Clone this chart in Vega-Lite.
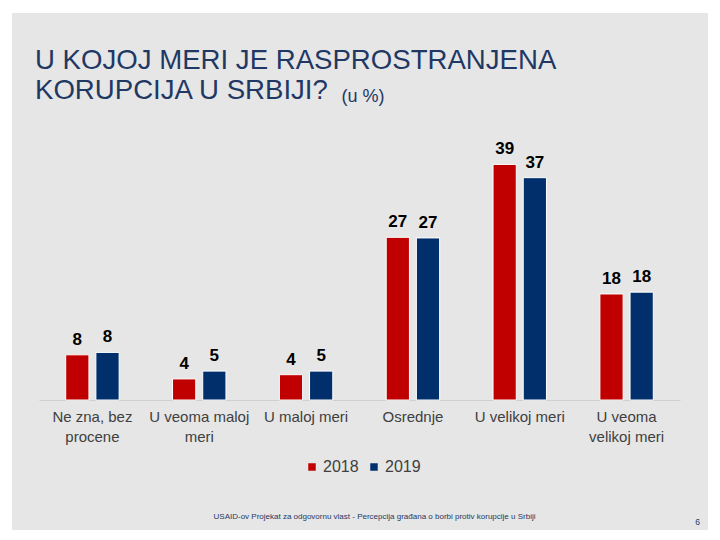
{
  "$schema": "https://vega.github.io/schema/vega-lite/v6.json",
  "width": 696,
  "height": 517,
  "autosize": {"type": "none"},
  "padding": {"left": 12, "top": 13, "right": 12, "bottom": 10},
  "background": "white",
  "config": {
    "view": {"fill": "#e6e6e6", "stroke": null},
    "font": "Liberation Sans"
  },
  "title": {
    "text": ["U KOJOJ MERI JE RASPROSTRANJENA", "KORUPCIJA U SRBIJI?"],
    "anchor": "start",
    "frame": "group",
    "orient": "top",
    "baseline": "top",
    "offset": -92,
    "dx": 23,
    "fontSize": 27.6,
    "fontWeight": "normal",
    "font": "Liberation Sans",
    "color": "#1f3864",
    "lineHeight": 30
  },
  "data": {
    "values": [
      {"kategorija": "Ne zna, bez procene", "godina": "2018", "vrednost": 7.5, "oznaka": "8"},
      {"kategorija": "Ne zna, bez procene", "godina": "2019", "vrednost": 7.9, "oznaka": "8"},
      {"kategorija": "U veoma maloj meri", "godina": "2018", "vrednost": 3.5, "oznaka": "4"},
      {"kategorija": "U veoma maloj meri", "godina": "2019", "vrednost": 4.8, "oznaka": "5"},
      {"kategorija": "U maloj meri", "godina": "2018", "vrednost": 4.2, "oznaka": "4"},
      {"kategorija": "U maloj meri", "godina": "2019", "vrednost": 4.8, "oznaka": "5"},
      {"kategorija": "Osrednje", "godina": "2018", "vrednost": 27.0, "oznaka": "27"},
      {"kategorija": "Osrednje", "godina": "2019", "vrednost": 26.9, "oznaka": "27"},
      {"kategorija": "U velikoj meri", "godina": "2018", "vrednost": 39.1, "oznaka": "39"},
      {"kategorija": "U velikoj meri", "godina": "2019", "vrednost": 36.9, "oznaka": "37"},
      {"kategorija": "U veoma velikoj meri", "godina": "2018", "vrednost": 17.6, "oznaka": "18"},
      {"kategorija": "U veoma velikoj meri", "godina": "2019", "vrednost": 17.9, "oznaka": "18"}
    ]
  },
  "encoding": {
    "x": {
      "field": "kategorija",
      "type": "nominal",
      "sort": ["Ne zna, bez procene", "U veoma maloj meri", "U maloj meri", "Osrednje", "U velikoj meri", "U veoma velikoj meri"],
      "scale": {"range": [27, 668], "paddingInner": 0.5, "paddingOuter": 0.25},
      "axis": {
        "orient": "bottom",
        "offset": -130,
        "labelAngle": 0,
        "labelFontSize": 15,
        "labelColor": "#404040",
        "labelPadding": 9,
        "labelLineHeight": 20,
        "labelOverlap": false,
        "labelLimit": 200,
        "ticks": false,
        "domainColor": "#d0d0d0",
        "domainWidth": 1,
        "labelExpr": "datum.value == 'Ne zna, bez procene' ? ['Ne zna, bez', 'procene'] : datum.value == 'U veoma maloj meri' ? ['U veoma maloj', 'meri'] : datum.value == 'U veoma velikoj meri' ? ['U veoma', 'velikoj meri'] : datum.value",
        "title": "USAID-ov Projekat za odgovornu vlast - Percepcija građana o borbi protiv korupcije u Srbiji",
        "titleFontSize": 8,
        "titleFontWeight": "normal",
        "titleColor": "#1f3864",
        "titleX": 362,
        "titleY": 118,
        "titleAlign": "center",
        "titleBaseline": "alphabetic",
        "titleLimit": 1000
      }
    },
    "xOffset": {"field": "godina", "type": "nominal", "scale": {"paddingInner": 0.23, "paddingOuter": 0}},
    "y": {"field": "vrednost", "type": "quantitative", "scale": {"domain": [0, 40], "range": [387, 146]}}
  },
  "layer": [
    {
      "mark": {"type": "bar", "stroke": "white", "strokeWidth": 1},
      "encoding": {
        "color": {
          "field": "godina",
          "type": "nominal",
          "scale": {"domain": ["2018", "2019"], "range": ["#c00000", "#002f6c"]},
          "legend": {
            "orient": "none",
            "direction": "horizontal",
            "legendX": 292,
            "legendY": 446,
            "title": null,
            "symbolType": "square",
            "symbolSize": 56,
            "symbolStrokeWidth": 0,
            "labelFontSize": 16,
            "labelColor": "#404040",
            "labelOffset": 3,
            "columnPadding": 7
          }
        },
        "y": {
          "field": "vrednost",
          "type": "quantitative",
          "axis": {
            "orient": "right",
            "domain": false,
            "ticks": false,
            "labels": false,
            "grid": false,
            "title": "6",
            "titleAngle": 0,
            "titleFontSize": 8.5,
            "titleFontWeight": "normal",
            "titleColor": "#1f3864",
            "titleX": -11,
            "titleY": 511,
            "titleAlign": "center",
            "titleBaseline": "alphabetic"
          }
        }
      }
    },
    {
      "mark": {"type": "text", "baseline": "alphabetic", "dy": -10, "fontSize": 17, "fontWeight": "bold", "color": "#000000"},
      "encoding": {
        "text": {"field": "oznaka"},
        "y": {
          "field": "vrednost",
          "type": "quantitative",
          "axis": {
            "orient": "left",
            "domain": false,
            "ticks": false,
            "labels": false,
            "grid": false,
            "title": "(u %)",
            "titleAngle": 0,
            "titleFontSize": 18,
            "titleFontWeight": "normal",
            "titleColor": "#1f3864",
            "titleX": 329,
            "titleY": 88,
            "titleAlign": "left",
            "titleBaseline": "alphabetic"
          }
        }
      }
    }
  ],
  "resolve": {"axis": {"y": "independent"}}
}
